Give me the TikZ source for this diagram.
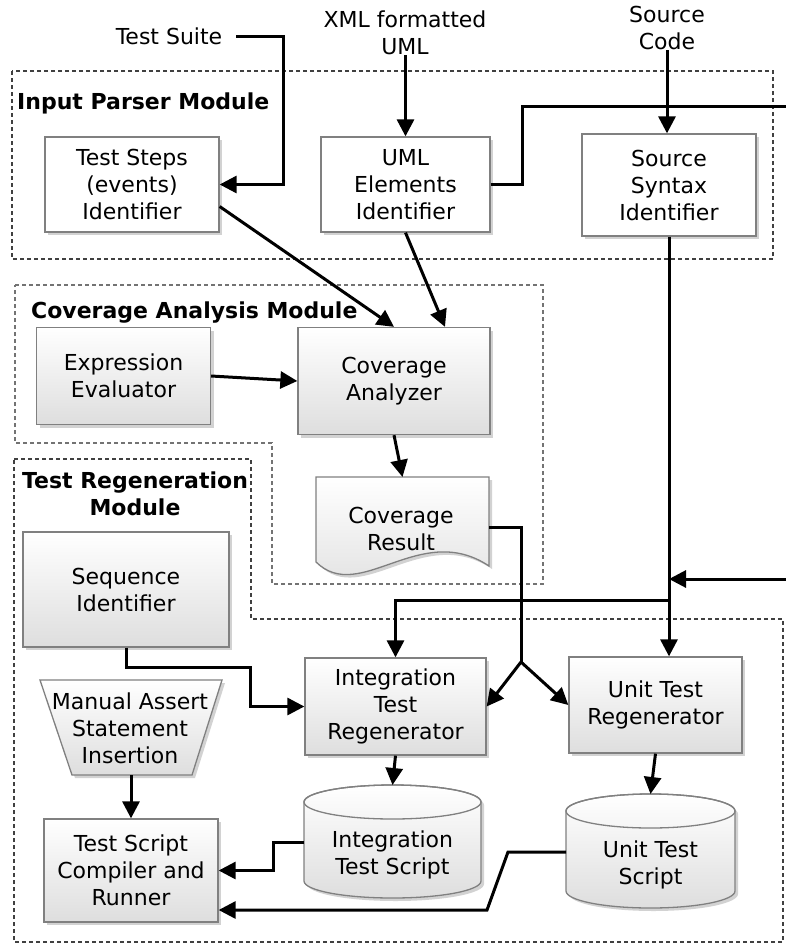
\documentclass[tikz,border=0pt]{standalone}
\usepackage{fontspec}
\setmainfont{DejaVu Sans}
\usetikzlibrary{arrows.meta,shadows,calc}
\definecolor{boxgray}{RGB}{128,128,128}
\newcommand\mycyl[5]{%
  \pgfmathsetmacro\cylcx{(#1+#2)/2}%
  \pgfmathsetmacro\cylrx{(#2-#1)/2}%
  \pgfmathsetmacro\cylct{#3+#5}%
  \pgfmathsetmacro\cylcb{#4-#5}%
  \path[shapefill] (#1,\cylct) -- (#1,\cylcb)
    .. controls (#1,{\cylcb+0.5523*#5}) and ({\cylcx-0.5523*\cylrx},#4) .. (\cylcx,#4)
    .. controls ({\cylcx+0.5523*\cylrx},#4) and (#2,{\cylcb+0.5523*#5}) .. (#2,\cylcb)
    -- (#2,\cylct)
    .. controls (#2,{\cylct-0.5523*#5}) and ({\cylcx+0.5523*\cylrx},#3) .. (\cylcx,#3)
    .. controls ({\cylcx-0.5523*\cylrx},#3) and (#1,{\cylct-0.5523*#5}) .. (#1,\cylct) -- cycle;
  \draw[draw=boxgray, line width=1.3pt] (\cylcx,\cylct) ellipse [x radius=\cylrx pt, y radius=#5 pt];
}
\begin{document}
\begin{tikzpicture}[x=1pt,y=-1pt,
  txt/.style={font=\fontsize{22}{27}\selectfont, align=center, inner sep=0pt},
  ttl/.style={font=\fontsize{22}{27}\selectfont\bfseries, align=center, inner sep=0pt},
  myshadow/.style={drop shadow={shadow xshift=3pt,shadow yshift=-3pt,fill=black!35,opacity=0.5}},
  plainbox/.style={txt, draw=boxgray, line width=1.3pt, fill=white, myshadow},
  gbox/.style={plainbox, top color=white, bottom color=black!13},
  shapefill/.style={draw=boxgray, line width=1.3pt, top color=white, bottom color=black!13, myshadow},
  modline/.style={draw=black!75, line width=1.2pt, dash pattern=on 4pt off 3pt},
  conn/.style={line width=3pt},
  arr/.style={line width=3pt, -{Triangle[length=17pt,width=17pt]}}
]
\useasboundingbox (0,0) rectangle (786,945);

% module frames
\draw[modline] (12,71) rectangle (773,259);
\draw[modline, draw=black!55] (15,285) -- (543,285) -- (543,584) -- (272,584) -- (272,443) -- (15,443) -- cycle;
\draw[modline] (14,459) -- (251,459) -- (251,619) -- (783,619) -- (783,942) -- (14,942) -- cycle;

% module titles
\node[ttl, anchor=west] (tIP) at (17,103) {Input Parser Module};
\node[ttl, anchor=west] (tCA) at (31,313) {Coverage Analysis Module};
\node[ttl] (tTR) at (135,493.5) {Test Regeneration\\Module};

% inputs
\node[txt] (tsuite) at (169,36) {Test Suite};
\node[txt] (xml) at (405,33) {XML formatted\\UML};
\node[txt] (scode) at (667,28) {Source\\Code};

% input parser boxes
\node[plainbox, minimum width=174pt, minimum height=95pt] (ts) at (132,184.5) {Test Steps\\(events)\\Identifier};
\node[plainbox, minimum width=169pt, minimum height=95pt] (uml) at (405.5,184.5) {UML\\Elements\\Identifier};
\node[plainbox, minimum width=174pt, minimum height=102pt] (src) at (669,185) {Source\\Syntax\\Identifier};

% coverage analysis
\node[gbox, minimum width=174pt, minimum height=97pt] (expr) at (123.5,376) {Expression\\Evaluator};
\node[gbox, minimum width=192pt, minimum height=107pt] (cov) at (394,381) {Coverage\\Analyzer};
\path[shapefill] (316,477) -- (489,477) -- (489,566) .. controls (420,520) and (360,605) .. (316,562) -- cycle;
\node[txt] (doc) at (401,529) {Coverage\\Result};
\coordinate (doct) at (402.5,477);
\coordinate (docr) at (489,527);

% test regeneration
\node[gbox, minimum width=206pt, minimum height=115pt] (seq) at (126,589.5) {Sequence\\Identifier};
\node[gbox, minimum width=181pt, minimum height=97pt] (itr) at (395.5,706.5) {Integration\\Test\\Regenerator};
\node[gbox, minimum width=173pt, minimum height=96pt] (utr) at (655.5,705) {Unit Test\\Regenerator};
\path[shapefill] (40,680) -- (222,680) -- (192,775) -- (72,775) -- cycle;
\node[txt] (man) at (130,728) {Manual Assert\\Statement\\Insertion};
\coordinate (manb) at (131,775);
\node[gbox, minimum width=174pt, minimum height=103pt] (run) at (131,870.5) {Test Script\\Compiler and\\Runner};
\mycyl{304}{481}{785}{898}{17}
\node[txt] (its) at (392.5,855) {Integration\\Test Script};
\coordinate (itst) at (392.5,785);
\coordinate (itsl) at (304,842);
\mycyl{566}{735}{794}{908}{17}
\node[txt] (uts) at (650.5,865) {Unit Test\\Script};
\coordinate (utst) at (650.5,794);
\coordinate (utsl) at (566,852);

% free ends and junctions
\coordinate (e1) at (786,106);
\coordinate (e2) at (786,579);
\coordinate (j2) at (669,600);
\coordinate (split) at (521,662);
\coordinate (b1) at (250,667);

% connectors
\draw[arr] ([xshift=14pt]tsuite.east) -- ++(47,0) |- (ts.east);
\draw[arr] (uml.north |- xml.south) -- (uml.north);
\draw[arr] (scode.south) -- (scode.south |- src.north);
\draw[conn] (uml.east) -- ++(32,0) |- (e1);
\draw[arr] (src.south) -- (src.south |- utr.north);
\draw[arr] (e2) -- (e2 -| src.south);
\draw[arr] (j2) -| (itr.north);
\draw[arr] ([yshift=-22pt]ts.east) -- (cov.north);
\draw[arr] (uml.south) -- ([xshift=51pt]cov.north);
\draw[arr] (expr.east) -- (cov.west);
\draw[arr] (cov.south) -- (doct);
\draw[conn] (docr) -- (docr -| split) -- (split);
\draw[arr] (split) -- (itr.east);
\draw[arr] (split) -- (utr.west);
\draw[arr] (seq.south) |- (b1) |- (itr.west);
\draw[arr] (manb) -- (run.north);
\draw[arr] (itr.south) -- (itst);
\draw[arr] (itsl) -- ++(-31,0) |- (run.east);
\draw[arr] (utr.south) -- (utst);
\draw[arr] (utsl) -- ++(-58,0) -- ++(-21,58) -- ([yshift=-39.5pt]run.east);
\end{tikzpicture}
\end{document}
